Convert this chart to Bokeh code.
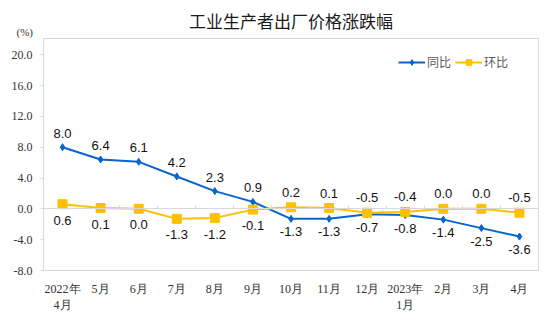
from bokeh.plotting import figure
from bokeh.models import (Range1d, FixedTicker, Title, Legend, LegendItem,
                          ColumnDataSource, LabelSet, LinearAxis)
from bokeh.core.properties import value
from bokeh.embed import file_html
from bokeh.resources import INLINE

# ---------------- data ----------------
months = ["2022年\n4月", "5月", "6月", "7月", "8月", "9月", "10月", "11月",
          "12月", "2023年\n1月", "2月", "3月", "4月"]
yoy = [8.0, 6.4, 6.1, 4.2, 2.3, 0.9, -1.3, -1.3, -0.7, -0.8, -1.4, -2.5, -3.6]
mom = [0.6, 0.1, 0.0, -1.3, -1.2, -0.1, 0.2, 0.1, -0.5, -0.4, 0.0, 0.0, -0.5]
y_ticks = [-8, -4, 0, 4, 8, 12, 16, 20]
y_tick_labels = ["-8.0", "-4.0", "0.0", "4.0", "8.0", "12.0", "16.0", "20.0"]
title_text = "工业生产者出厂价格涨跌幅"
unit_text = "(%)"
series_names = ["同比", "环比"]

BLUE = "#0865C9"
YELLOW = "#FFC000"
GRAY = "#D9D9D9"
SERIF = "Liberation Serif"
SANS = "Liberation Sans"
CJK = "Noto Sans CJK SC"

xs = list(range(len(months)))

p = figure(width=550, height=325, output_backend="svg", toolbar_location=None,
           x_range=Range1d(-0.5, len(months) - 0.5), y_range=Range1d(-8, 22.1),
           min_border_left=43, min_border_right=12, min_border_top=38,
           min_border_bottom=55, background_fill_color="white",
           border_fill_color="white", outline_line_color=GRAY)

# title
p.title.text = title_text
p.title.align = "center"
p.title.offset = -21
p.title.text_font = CJK
p.title.text_font_size = "17px"
p.title.text_font_style = "normal"
p.title.text_color = "#1a1a1a"
p.title.standoff = -21

# unit text as a secondary title, left-aligned into the left margin
p.add_layout(Title(text=unit_text, align="left", offset=-27, standoff=2,
                   text_font=SERIF, text_font_size="11px",
                   text_font_style="normal", text_color="#333333"), "above")

# axes
p.yaxis.ticker = FixedTicker(ticks=y_ticks)
p.yaxis.major_label_overrides = {t: l for t, l in zip(y_ticks, y_tick_labels)}
p.yaxis.axis_line_color = GRAY
p.yaxis.major_tick_line_color = GRAY
p.yaxis.major_tick_out = 3
p.yaxis.major_tick_in = 0
p.yaxis.minor_tick_line_color = None
p.yaxis.major_label_text_font = SERIF
p.yaxis.major_label_text_font_size = "12px"
p.yaxis.major_label_text_color = "#333333"
p.yaxis.major_label_standoff = 8

p.xaxis.ticker = FixedTicker(ticks=xs)
p.xaxis.major_label_overrides = {i: m for i, m in zip(xs, months)}
p.xaxis.axis_line_color = None
p.xaxis.major_tick_line_color = None
p.xaxis.minor_tick_line_color = None
p.xaxis.major_label_text_font = SERIF
p.xaxis.major_label_text_font_size = "12px"
p.xaxis.major_label_text_color = "#333333"
p.xaxis.major_label_standoff = 5

# zero axis with category-boundary ticks
zero_axis = LinearAxis(fixed_location=0,
                       ticker=FixedTicker(ticks=[i + 0.5 for i in xs[:-1]]),
                       axis_line_color=GRAY, major_tick_line_color=GRAY,
                       major_tick_in=3, major_tick_out=0,
                       minor_tick_line_color=None,
                       major_label_text_color=None,
                       major_label_text_font_size="1px")
p.add_layout(zero_axis, "below")

p.xgrid.visible = False
p.ygrid.visible = False

# lines
r1 = p.line(xs, yoy, color=BLUE, line_width=2)
m1 = p.scatter(xs, yoy, marker="diamond", size=7, color=BLUE)
r2 = p.line(xs, mom, color=YELLOW, line_width=2)
m2 = p.scatter(xs, mom, marker="square", size=9, color=YELLOW)

# data labels
def fmt(v):
    return f"{v:.1f}"

yoy_up = [i for i in xs if yoy[i] >= mom[i]]
yoy_dn = [i for i in xs if yoy[i] < mom[i]]
mom_up = yoy_dn
mom_dn = yoy_up

def add_labels(idx, vals, off):
    src = ColumnDataSource(dict(x=[xs[i] for i in idx], y=[vals[i] for i in idx],
                                t=[fmt(vals[i]) for i in idx]))
    p.add_layout(LabelSet(x="x", y="y", text="t", source=src, y_offset=off,
                          text_align="center", text_baseline="middle",
                          text_font=value(SANS), text_font_size=value("13px"),
                          text_color="#111111"))

add_labels(yoy_up, yoy, 14)
add_labels(yoy_dn, yoy, -13)
add_labels(mom_up, mom, 15)
add_labels(mom_dn, mom, -16)

legend = Legend(items=[LegendItem(label=series_names[0], renderers=[r1, m1]),
                       LegendItem(label=series_names[1], renderers=[r2, m2])],
                orientation="horizontal", location=(355, 200),
                border_line_color=None, background_fill_alpha=0,
                padding=0, margin=0, spacing=4, label_standoff=2,
                glyph_width=27, glyph_height=14, label_height=14,
                label_text_font=CJK, label_text_font_size="12px",
                label_text_color="#595959")
p.add_layout(legend)

open("out.html", "w").write(file_html(p, INLINE))
